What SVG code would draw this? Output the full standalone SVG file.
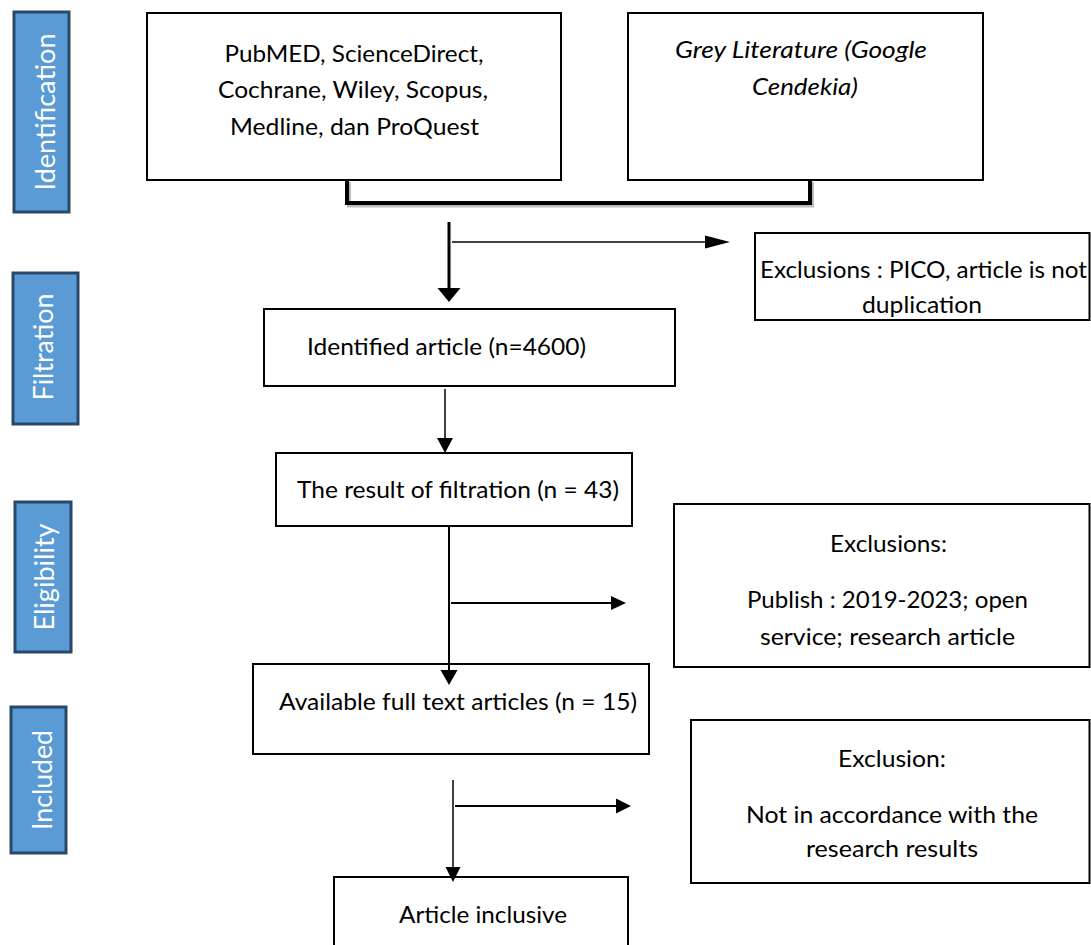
<svg xmlns="http://www.w3.org/2000/svg" width="1091" height="945" viewBox="0 0 1091 945">
<style>
  .stage { fill: #5b9bd5; stroke: #2a4868; stroke-width: 3; }
  .stage-t { font-family: Lato, "Liberation Sans", sans-serif; font-size: 26px; fill: #ffffff; text-anchor: middle; }
  .box { fill: #ffffff; stroke: #000000; stroke-width: 2; }
  .t { font-family: Lato, "Liberation Sans", sans-serif; font-size: 23px; fill: #000000; }
  .c { text-anchor: middle; }
</style>
<rect width="1091" height="945" fill="#ffffff"/>

<g id="stage-identification">
  <rect class="stage" x="14" y="12" width="55" height="200"/>
  <text class="stage-t" transform="translate(55,112) rotate(-90)" textLength="157" lengthAdjust="spacingAndGlyphs">Identification</text>
</g>
<g id="stage-filtration">
  <rect class="stage" x="13" y="273" width="65" height="151"/>
  <text class="stage-t" transform="translate(53,347) rotate(-90)" textLength="107" lengthAdjust="spacingAndGlyphs">Filtration</text>
</g>
<g id="stage-eligibility">
  <rect class="stage" x="15" y="502" width="56" height="150"/>
  <text class="stage-t" transform="translate(54,577) rotate(-90)" textLength="107" lengthAdjust="spacingAndGlyphs">Eligibility</text>
</g>
<g id="stage-included">
  <rect class="stage" x="11" y="707" width="55" height="146"/>
  <text class="stage-t" transform="translate(52,780) rotate(-90)" textLength="100" lengthAdjust="spacingAndGlyphs">Included</text>
</g>

<g id="node-databases">
  <rect class="box" x="147" y="13" width="414" height="167"/>
  <text class="t c" x="354" y="62" font-size="24" textLength="259" lengthAdjust="spacingAndGlyphs">PubMED, ScienceDirect,</text>
  <text class="t c" x="353" y="98" font-size="24" textLength="270" lengthAdjust="spacingAndGlyphs">Cochrane, Wiley, Scopus,</text>
  <text class="t c" x="354.5" y="135" font-size="24" textLength="249" lengthAdjust="spacingAndGlyphs">Medline, dan ProQuest</text>
</g>
<g id="node-grey">
  <rect class="box" x="628" y="13" width="355" height="167"/>
  <text class="t c" x="801" y="58" font-size="24" font-style="italic" textLength="252" lengthAdjust="spacingAndGlyphs">Grey Literature (Google</text>
  <text class="t c" x="805" y="95" font-size="24" font-style="italic" textLength="106" lengthAdjust="spacingAndGlyphs">Cendekia)</text>
</g>
<g id="node-exclusion-1">
  <rect class="box" x="755" y="233" width="334.5" height="87"/>
  <text class="t" x="760" y="278" font-size="24" textLength="327" lengthAdjust="spacingAndGlyphs">Exclusions : PICO, article is not</text>
  <text class="t c" x="922" y="313" font-size="24" textLength="120" lengthAdjust="spacingAndGlyphs">duplication</text>
</g>
<g id="node-identified">
  <rect class="box" x="264" y="309" width="411" height="77"/>
  <text class="t" x="307" y="355" textLength="279" lengthAdjust="spacingAndGlyphs">Identified article (n=4600)</text>
</g>
<g id="node-filtration-result">
  <rect class="box" x="276" y="453" width="356" height="73"/>
  <text class="t" x="297" y="498" textLength="322" lengthAdjust="spacingAndGlyphs">The result of filtration (n = 43)</text>
</g>
<g id="node-exclusion-2">
  <rect class="box" x="674" y="504" width="415.5" height="163"/>
  <text class="t c" x="888.5" y="552" textLength="117" lengthAdjust="spacingAndGlyphs">Exclusions:</text>
  <text class="t c" x="887.5" y="608" textLength="281" lengthAdjust="spacingAndGlyphs">Publish : 2019-2023; open</text>
  <text class="t c" x="887.5" y="645" textLength="255" lengthAdjust="spacingAndGlyphs">service; research article</text>
</g>
<g id="node-fulltext">
  <rect class="box" x="253" y="664" width="396" height="90"/>
  <text class="t" x="279" y="710" font-size="24" textLength="358" lengthAdjust="spacingAndGlyphs">Available full text articles (n = 15)</text>
</g>
<g id="node-exclusion-3">
  <rect class="box" x="691" y="720" width="398.5" height="163"/>
  <text class="t c" x="892" y="767" textLength="108" lengthAdjust="spacingAndGlyphs">Exclusion:</text>
  <text class="t c" x="892" y="823" textLength="292" lengthAdjust="spacingAndGlyphs">Not in accordance with the</text>
  <text class="t c" x="892" y="857" textLength="172" lengthAdjust="spacingAndGlyphs">research results</text>
</g>
<g id="node-inclusive">
  <rect class="box" x="334" y="877" width="294" height="80"/>
  <text class="t" x="399" y="923" font-size="24" textLength="168" lengthAdjust="spacingAndGlyphs">Article inclusive</text>
</g>

<g id="connectors">
  <path d="M349,182 V205.5 H812 V182" fill="none" stroke="#bbbbbb" stroke-width="4"/>
  <path d="M347,180 V203 H810 V180" fill="none" stroke="#000" stroke-width="4"/>
  <line x1="449" y1="222" x2="449" y2="289" stroke="#000" stroke-width="3"/>
  <path d="M437.5,288 L460.5,288 L449,302 Z" fill="#000"/>
  <line x1="452" y1="242" x2="706" y2="242" stroke="#000" stroke-width="1.5"/>
  <path d="M705,235.5 L730,242 L705,248.5 Z" fill="#000"/>
  <line x1="445" y1="389" x2="445" y2="440" stroke="#000" stroke-width="1.5"/>
  <path d="M437,438 L453,438 L445,453 Z" fill="#000"/>
  <line x1="449" y1="526" x2="449" y2="671" stroke="#000" stroke-width="2"/>
  <path d="M440.5,670 L457.5,670 L449,685 Z" fill="#000"/>
  <line x1="451" y1="603" x2="612" y2="603" stroke="#000" stroke-width="2"/>
  <path d="M611,596 L626,603 L611,610 Z" fill="#000"/>
  <line x1="453" y1="780" x2="453" y2="868" stroke="#000" stroke-width="1.5"/>
  <path d="M445.5,867 L460.5,867 L453,882 Z" fill="#000"/>
  <line x1="455" y1="806" x2="617" y2="806" stroke="#000" stroke-width="2"/>
  <path d="M616,798.5 L631,806 L616,813.5 Z" fill="#000"/>
</g>
</svg>
